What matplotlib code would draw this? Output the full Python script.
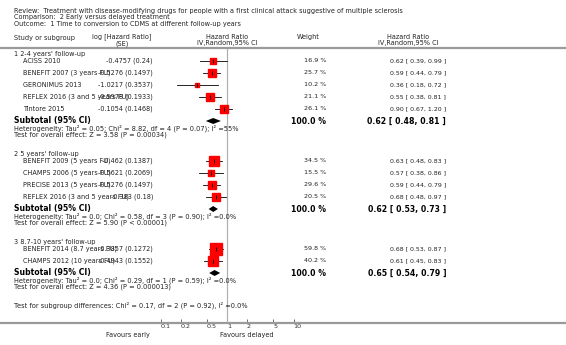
import numpy as np
import matplotlib
matplotlib.use('Agg')
import matplotlib.pyplot as plt

# data
groups = ["1 2-4 years' follow-up", "2 5 years' follow-up", "3 8.7-10 years' follow-up"]
studies = [
    ["ACISS 2010", "BENEFIT 2007 (3 years FU)", "GERONIMUS 2013",
     "REFLEX 2016 (3 and 5 years FU)", "Tintore 2015"],
    ["BENEFIT 2009 (5 years FU)", "CHAMPS 2006 (5 years FU)",
     "PRECISE 2013 (5 years FU)", "REFLEX 2016 (3 and 5 years FU)"],
    ["BENEFIT 2014 (8.7 years FU)", "CHAMPS 2012 (10 years FU)"],
]
log_hr = [["-0.4757", "-0.5276", "-1.0217", "-0.5978", "-0.1054"],
          ["-0.462", "-0.5621", "-0.5276", "-0.383"],
          ["-0.3857", "-0.4943"]]
se = [["0.24", "0.1497", "0.3537", "0.1933", "0.1468"],
      ["0.1387", "0.2069", "0.1497", "0.18"],
      ["0.1272", "0.1552"]]
hr = [[0.62, 0.59, 0.36, 0.55, 0.90], [0.63, 0.57, 0.59, 0.68], [0.68, 0.61]]
lo = [[0.39, 0.44, 0.18, 0.38, 0.67], [0.48, 0.38, 0.44, 0.48], [0.53, 0.45]]
hi = [[0.99, 0.79, 0.72, 0.81, 1.20], [0.83, 0.86, 0.79, 0.97], [0.87, 0.83]]
weight = [[16.9, 25.7, 10.2, 21.1, 26.1], [34.5, 15.5, 29.6, 20.5], [59.8, 40.2]]
sub_hr = [0.62, 0.62, 0.65]
sub_lo = [0.48, 0.53, 0.54]
sub_hi = [0.81, 0.73, 0.79]
het = ["Heterogeneity: Tau\u00b2 = 0.05; Chi\u00b2 = 8.82, df = 4 (P = 0.07); I\u00b2 =55%",
       "Heterogeneity: Tau\u00b2 = 0.0; Chi\u00b2 = 0.58, df = 3 (P = 0.90); I\u00b2 =0.0%",
       "Heterogeneity: Tau\u00b2 = 0.0; Chi\u00b2 = 0.29, df = 1 (P = 0.59); I\u00b2 =0.0%"]
overall = ["Test for overall effect: Z = 3.58 (P = 0.00034)",
           "Test for overall effect: Z = 5.90 (P < 0.00001)",
           "Test for overall effect: Z = 4.36 (P = 0.000013)"]
sub_diff = "Test for subgroup differences: Chi\u00b2 = 0.17, df = 2 (P = 0.92), I\u00b2 =0.0%"
ticks = [0.1, 0.2, 0.5, 1, 2, 5, 10]

W, H = 566, 345
fig = plt.figure(figsize=(W / 100, H / 100), dpi=100)

# forest axes: log x, y in pixel rows
top_y, axis_y = 48, 323
dec = 66.5
x_one = 227
ax = fig.add_axes([0, (H - axis_y) / H, 1, (axis_y - top_y) / H])
ax.set_xscale('log')
ax.set_xlim(10 ** (-x_one / dec), 10 ** ((W - x_one) / dec))
ax.set_ylim(axis_y, top_y)
for s in ['left', 'right']:
    ax.spines[s].set_visible(False)
ax.spines['bottom'].set_color('#9a9a9a')
ax.spines['bottom'].set_linewidth(1.6)
ax.spines['top'].set_color('#9a9a9a')
ax.spines['top'].set_linewidth(1.6)
ax.set_yticks([])
ax.set_xticks(ticks)
ax.set_xticklabels(['0.1', '0.2', '0.5', '1', '2', '5', '10'])
ax.minorticks_off()
ax.tick_params(axis='x', direction='in', length=3, width=0.6, color='#555',
               labelsize=4.6, pad=1, labelcolor='#333')
for lab in ax.get_xticklabels():
    lab.set_horizontalalignment('left')
ax.axvline(1, color='#b0b0b0', lw=0.9)

# text overlay in pixel coords
tx = fig.add_axes([0, 0, 1, 1], facecolor='none')
tx.set_xlim(0, W)
tx.set_ylim(H, 0)
tx.axis('off')

fs = 4.7
col = '#222222'
def t(x, y, s, **kw):
    kw.setdefault('fontsize', fs)
    kw.setdefault('color', col)
    kw.setdefault('va', 'center')
    tx.text(x, y, s, **kw)

t(14, 11, "Review:  Treatment with disease-modifying drugs for people with a first clinical attack suggestive of multiple sclerosis")
t(14, 17.5, "Comparison:  2 Early versus delayed treatment")
t(14, 24, "Outcome:  1 Time to conversion to CDMS at different follow-up years")

t(14, 38, "Study or subgroup")
t(122, 37, "log [Hazard Ratio]", ha='center')
t(122, 43.5, "(SE)", ha='center')
t(x_one, 37, "Hazard Ratio", ha='center')
t(x_one, 43.5, "IV,Random,95% CI", ha='center')
t(308, 37, "Weight", ha='center')
t(408, 37, "Hazard Ratio", ha='center')
t(408, 43.5, "IV,Random,95% CI", ha='center')

y = 54
for g in range(len(groups)):
    t(14, y, groups[g])
    n = len(studies[g])
    rows = y + 7 + 12 * np.arange(n)
    for i in range(n):
        r = rows[i]
        t(23, r, studies[g][i])
        t(153, r, "%s (%s)" % (log_hr[g][i], se[g][i]), ha='right')
        t(326, r, "%.1f %%" % weight[g][i], ha='right', fontsize=4.6)
        t(446, r, "%.2f [ %.2f, %.2f ]" % (hr[g][i], lo[g][i], hi[g][i]), ha='right', fontsize=4.5)
        ax.plot([lo[g][i], hi[g][i]], [r, r], color='black', lw=0.6)
        side = 1.55 * np.sqrt(weight[g][i]) * 0.72
        ax.plot(hr[g][i], r, marker='s', ms=side, color='#ff0000', mec='#ff0000', ls='none')
        ax.plot(hr[g][i], r, marker='|', ms=3, mew=0.6, color='black', ls='none')
    sub = y + 7 + 12 * n
    t(14, sub, "Subtotal (95% CI)", fontsize=5.6, fontweight='bold', color='black')
    t(326, sub, "100.0 %", ha='right', fontsize=5.6, fontweight='bold', color='black')
    t(446, sub, "%.2f [ %.2f, %.2f ]" % (sub_hr[g], sub_lo[g], sub_hi[g]), ha='right',
      fontsize=5.6, fontweight='bold', color='black')
    ax.fill([sub_lo[g], sub_hr[g], sub_hi[g], sub_hr[g]], [sub, sub - 3, sub, sub + 3],
            color='black', lw=0)
    t(14, sub + 7, het[g], fontsize=4.75)
    t(14, sub + 14, overall[g], fontsize=4.75)
    y = sub + 33

t(14, 305, sub_diff, fontsize=4.75)
t(128, 335, "Favours early", ha='center')
t(247, 335, "Favours delayed", ha='center')

fig.savefig('out.png', dpi=100)
